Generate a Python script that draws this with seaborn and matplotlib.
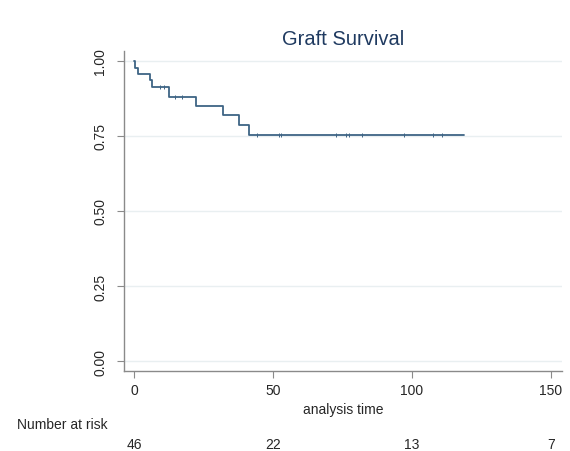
import numpy as np
import pandas as pd
import matplotlib
matplotlib.use("Agg")
import matplotlib.pyplot as plt
import matplotlib.transforms as mtransforms
import seaborn as sns

sns.set_style("white")
plt.rcParams['font.family'] = ['Liberation Sans', 'DejaVu Sans']

# Kaplan-Meier step values
event_time = [0.0, 0.5, 1.5, 5.8, 6.3, 12.7, 22.4, 31.9, 37.7, 41.3, 118.6]
survival = [1.0, 0.978, 0.957, 0.935, 0.913, 0.880, 0.851, 0.821, 0.787, 0.753, 0.753]

# censoring marks
censor_time = [9.3, 10.9, 14.7, 17.2, 44.3, 52.0, 53.0, 72.6, 76.2, 77.4,
               82.2, 97.2, 107.5, 111.0]

# number at risk table
risk_time = [0, 50, 100, 150]
risk_n = [46, 22, 13, 7]

line_col = "#3e6485"
axis_col = "#8a8a8a"

km = pd.DataFrame({"time": event_time, "surv": survival})


def surv_at(t):
    s = survival[0]
    for et, sv in zip(event_time, survival):
        if et <= t:
            s = sv
    return s


cens = pd.DataFrame({"time": censor_time,
                     "surv": [surv_at(t) for t in censor_time]})

fig = plt.figure(figsize=(5.7, 4.52), dpi=100)
ax = fig.add_axes([124 / 570, 1 - 372 / 452, (562 - 124) / 570, (372 - 52) / 452])

for yv in [0, 0.25, 0.5, 0.75, 1.0]:
    ax.axhline(yv, color="#e9eff1", lw=1.0, zorder=0)

sns.lineplot(data=km, x="time", y="surv", drawstyle="steps-post",
             color=line_col, lw=1.3, ax=ax)
ax.scatter(cens["time"], cens["surv"], marker="|", s=6, color=line_col,
           linewidths=0.7, zorder=3)

ax.set_xlim(-3.6, 154)
ax.set_ylim(-0.033, 1.033)
ax.set_xticks(risk_time)
ax.set_yticks([0, 0.25, 0.5, 0.75, 1.0])
ax.set_yticklabels(["0.00", "0.25", "0.50", "0.75", "1.00"], rotation=90,
                   va="center")
ax.tick_params(axis="both", labelsize=10, length=5, width=0.8,
               color=axis_col, direction="out")
ax.tick_params(axis="y", left=True, pad=7)
ax.tick_params(axis="x", bottom=True, pad=4)

for side in ["top", "right"]:
    ax.spines[side].set_visible(False)
for side in ["left", "bottom"]:
    ax.spines[side].set_color(axis_col)
    ax.spines[side].set_linewidth(1.0)

ax.set_xlabel("analysis time", fontsize=10, labelpad=3)
ax.set_ylabel("")
ax.set_title("Graft Survival", fontsize=14.5, color="#1f3a60", pad=5)

# number at risk
trans = mtransforms.blended_transform_factory(ax.transData, fig.transFigure)
fig.text(17 / 570, 1 - 425 / 452, "Number at risk", fontsize=10,
         ha="left", va="center")
for t, n in zip(risk_time, risk_n):
    ax.text(t, 1 - 445 / 452, str(n), transform=trans, fontsize=10,
            ha="center", va="center")

fig.savefig("out.png", dpi=100)
